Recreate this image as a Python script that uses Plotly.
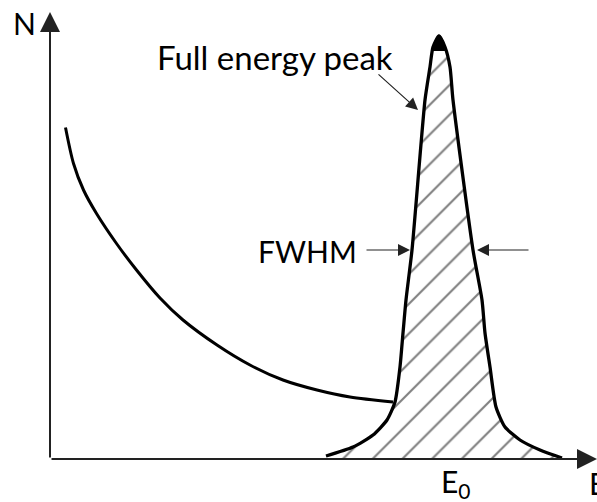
import plotly.graph_objects as go

# Background (Compton-like) continuum (E, N in arbitrary units)
bg_E = [3.1, 4.7, 6.7, 9.3, 13.3, 17.3, 22.0, 26.6, 33.4, 40.0, 46.6, 53.4, 60.0, 68.6]
bg_N = [66.3, 59.1, 53.8, 49.1, 43.1, 37.8, 32.2, 27.8, 22.8, 18.8, 15.8, 13.8, 12.4, 11.4]

# Full energy peak outline
peak_E = [55.2, 60.6, 64.6, 67.4, 69.0, 70.0, 70.6, 71.2, 72.4, 75.0, 76.0, 76.6, 77.8,
          79.0, 80.0, 80.6, 84.6, 86.4, 87.0, 88.0, 89.2, 91.0, 94.0, 98.0, 102.4]
peak_N = [0.6, 2.4, 4.8, 7.8, 11.4, 18.4, 25.2, 31.8, 41.8, 71.8, 78.4, 82.4, 84.6,
          82.4, 78.4, 71.8, 41.8, 31.8, 25.2, 18.4, 10.4, 6.4, 3.8, 1.8, 0.2]

# Solid black tip of the peak
tip_E = [76.6, 77.2, 77.8, 78.4, 79.0]
tip_N = [81.6, 84.0, 84.8, 84.0, 81.6]

# Axis extents and annotation anchors
E_max = 109.4
N_max = 89.4
half_max = 41.8
fwhm_left = 72.0
fwhm_right = 85.4
E0 = 81.2

FONT = "Lato"

fig = go.Figure()
fig.add_trace(go.Scatter(
    x=peak_E, y=peak_N, mode="lines", fill="tozeroy",
    line=dict(color="black", width=3.3, shape="spline", smoothing=0.6),
    fillcolor="rgba(0,0,0,0)",
    fillpattern=dict(shape="/", size=21, solidity=0.1, fgcolor="#000000", bgcolor="white"),
    hoverinfo="skip", showlegend=False))
fig.add_trace(go.Scatter(
    x=tip_E, y=tip_N, mode="lines", fill="toself", fillcolor="black",
    line=dict(color="black", width=1, shape="spline"), hoverinfo="skip", showlegend=False))
fig.add_trace(go.Scatter(
    x=bg_E, y=bg_N, mode="lines",
    line=dict(color="black", width=3, shape="spline", smoothing=0.8),
    hoverinfo="skip", showlegend=False))

axis_col = "#222222"
ann = []
# axes as arrows
ann.append(dict(x=E_max, y=0, ax=0, ay=0, xref="x", yref="y", axref="x", ayref="y",
                showarrow=True, arrowhead=2, arrowsize=2, arrowwidth=2, arrowcolor=axis_col, text=""))
ann.append(dict(x=0, y=N_max, ax=0, ay=0, xref="x", yref="y", axref="x", ayref="y",
                showarrow=True, arrowhead=2, arrowsize=2, arrowwidth=2, arrowcolor=axis_col, text=""))
# FWHM arrows
ann.append(dict(x=fwhm_left, y=half_max, ax=63, ay=half_max, xref="x", yref="y", axref="x", ayref="y",
                showarrow=True, arrowhead=2, arrowsize=2, arrowwidth=1.2, arrowcolor="#222", text=""))
ann.append(dict(x=fwhm_right, y=half_max, ax=96, ay=half_max, xref="x", yref="y", axref="x", ayref="y",
                showarrow=True, arrowhead=2, arrowsize=2, arrowwidth=1.2, arrowcolor="#222", text=""))
# Full energy peak arrow
ann.append(dict(x=73.6, y=69.8, ax=65.4, ay=77.2, xref="x", yref="y", axref="x", ayref="y",
                showarrow=True, arrowhead=2, arrowsize=2, arrowwidth=1.2, arrowcolor="#222", text=""))

ann.append(dict(x=44.9, y=80.5, xref="x", yref="y", text="Full energy peak", showarrow=False,
                font=dict(family=FONT, size=33, color="black"), xanchor="center", yanchor="middle"))
ann.append(dict(x=61.8, y=41.6, xref="x", yref="y", text="FWHM", showarrow=False,
                font=dict(family=FONT, size=30, color="black"), xanchor="right", yanchor="middle"))
ann.append(dict(x=-5.1, y=87.2, xref="x", yref="y", text="N", showarrow=False,
                font=dict(family=FONT, size=30, color="black"), xanchor="center", yanchor="middle"))
ann.append(dict(x=E0, y=-4.7, xref="x", yref="y", text="E<sub>0</sub>", showarrow=False,
                font=dict(family=FONT, size=30, color="black"), xanchor="center", yanchor="middle"))
ann.append(dict(x=107.4, y=-4.7, xref="x", yref="y", text="E", showarrow=False,
                font=dict(family=FONT, size=30, color="black"), xanchor="left", yanchor="middle"))

fig.update_layout(
    width=597, height=502, margin=dict(l=0, r=0, t=0, b=0),
    paper_bgcolor="white", plot_bgcolor="white",
    xaxis=dict(range=[-10, 109.4], visible=False, fixedrange=True),
    yaxis=dict(range=[-8.6, 91.8], visible=False, fixedrange=True),
    annotations=ann, showlegend=False)

fig.write_html("out.html")
